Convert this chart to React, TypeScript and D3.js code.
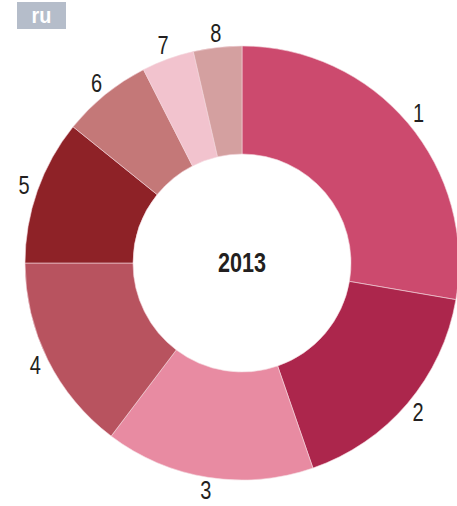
import React from "react";
import * as d3 from "d3";

const categories = ["1", "2", "3", "4", "5", "6", "7", "8"];
const values = [27.7, 17.0, 15.6, 14.7, 10.8, 6.7, 3.9, 3.6];
const colors = ["#CC4A6E", "#AC264C", "#E88BA2", "#B8535F", "#8E2227", "#C47878", "#F2C3CE", "#D4A0A0"];
const centerLabel = "2013";
const badgeLabel = "ru";

const W = 457;
const H = 506;
const cx = 242;
const cy = 263;
const outerR = 217;
const innerR = 109;
const labelR = 231;
const FONT = "'Liberation Sans', Arial, sans-serif";
const SX = 0.8;

export default function App() {
  const data = categories.map((c, i) => ({ c, v: values[i], color: colors[i] }));
  const pie = d3.pie<any>().value((d: any) => d.v).sort(null);
  const arcs = pie(data);
  const arc = d3.arc<any>().innerRadius(innerR).outerRadius(outerR);
  const labelArc = d3.arc<any>().innerRadius(labelR).outerRadius(labelR);

  return (
    <svg width={W} height={H} style={{ position: "absolute", left: 0, top: 0 }}>
      <rect x={17} y={2} width={49} height={27} fill="#B5BDCA" />
      <text transform={`translate(41.5,15.5) scale(0.9,1)`} textAnchor="middle" dominantBaseline="central" fill="#fff" fontFamily={FONT} fontWeight="bold" fontSize={22}>
        {badgeLabel}
      </text>
      <g transform={`translate(${cx},${cy})`}>
        {arcs.map((a, i) => (
          <path key={i} d={arc(a) as string} fill={a.data.color} stroke="#f4d6de" strokeWidth={0.6} />
        ))}
        {arcs.map((a, i) => {
          const [x, y] = labelArc.centroid(a);
          return (
            <text key={"l" + i} transform={`translate(${x},${y}) scale(${SX},1)`} textAnchor="middle" dominantBaseline="central" fontFamily={FONT} fontSize={25} fill="#231f20">
              {a.data.c}
            </text>
          );
        })}
        <text transform={`scale(${SX},1)`} textAnchor="middle" dominantBaseline="central" fontFamily={FONT} fontWeight="bold" fontSize={27} fill="#231f20">
          {centerLabel}
        </text>
      </g>
    </svg>
  );
}
